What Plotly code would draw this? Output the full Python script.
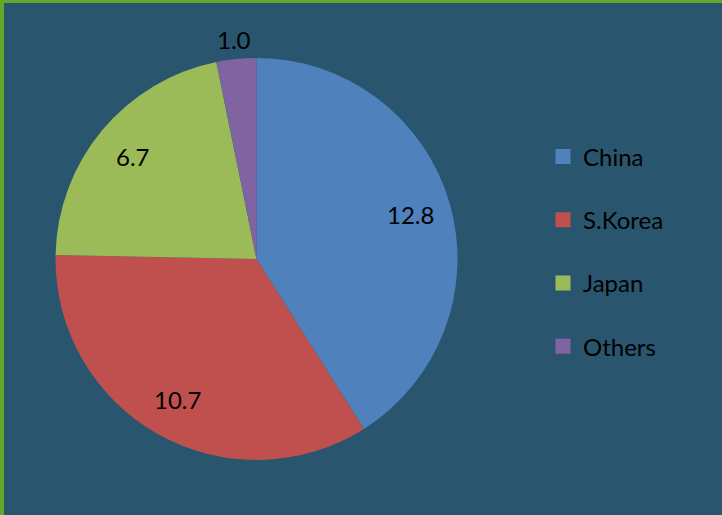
import math
import plotly.graph_objects as go

# slice data, clockwise from 12 o'clock
labels = ["China", "S.Korea", "Japan", "Others"]
values = [12.8, 10.7, 6.7, 1.0]
slice_text = ["12.8", "10.7", "6.7", "1.0"]
colors = ["#4f81bd", "#c0504d", "#9bbb59", "#8064a2"]

W, H = 722, 515
BG = "#29566e"
BORDER = "#63a72b"
FONT = "Lato, 'Open Sans', sans-serif"

# pie geometry in pixels
CX, CY, R = 256.5, 259.0, 201.0
# data labels sit at this fraction of the radius (small slice goes outside)
LABEL_R = [0.8, 0.8, 0.8, 1.1]

fig = go.Figure()

fig.add_trace(go.Pie(
    labels=labels,
    values=values,
    textinfo="none",
    marker=dict(colors=colors, line=dict(width=0)),
    sort=False,
    direction="clockwise",
    rotation=0,
    showlegend=False,
    domain=dict(x=[(CX - R) / W, (CX + R) / W], y=[1 - (CY + R) / H, 1 - (CY - R) / H]),
    hoverinfo="label+value",
))

# data labels placed at the middle angle of each slice
total = sum(values)
annotations = []
start = 0.0
for v, txt, k in zip(values, slice_text, LABEL_R):
    mid = math.radians((start + v / 2) / total * 360)
    start += v
    px = CX + k * R * math.sin(mid)
    py = CY - k * R * math.cos(mid)
    annotations.append(dict(
        x=px / W, y=1 - py / H, xref="paper", yref="paper", text=txt,
        xanchor="center", yanchor="middle",
        showarrow=False, font=dict(family=FONT, size=24, color="black"),
    ))

# legend drawn with placeholder traces so the rows can be spaced like the original
for name, col in zip(labels, colors):
    fig.add_trace(go.Scatter(
        x=[None], y=[None], mode="markers", name=name, legendgroup=name,
        marker=dict(symbol="square", size=15, color=col),
    ))

fig.update_layout(
    width=W,
    height=H,
    margin=dict(l=0, r=0, t=0, b=0),
    paper_bgcolor=BG,
    plot_bgcolor=BG,
    xaxis=dict(visible=False),
    yaxis=dict(visible=False),
    showlegend=True,
    legend=dict(
        x=543 / W, y=1 - 134.5 / H, xanchor="left", yanchor="top",
        font=dict(family=FONT, size=24, color="black"),
        tracegroupgap=29, itemwidth=30, bgcolor="rgba(0,0,0,0)",
    ),
    annotations=annotations,
    shapes=[
        dict(type="rect", xref="paper", yref="paper", x0=0, x1=4 / W, y0=0, y1=1,
             fillcolor=BORDER, line=dict(width=0), layer="above"),
        dict(type="rect", xref="paper", yref="paper", x0=0, x1=1, y0=1 - 3 / H, y1=1,
             fillcolor=BORDER, line=dict(width=0), layer="above"),
    ],
)

fig.write_html("out.html", config={"displayModeBar": False},
               post_script="document.body.style.margin='0';")
